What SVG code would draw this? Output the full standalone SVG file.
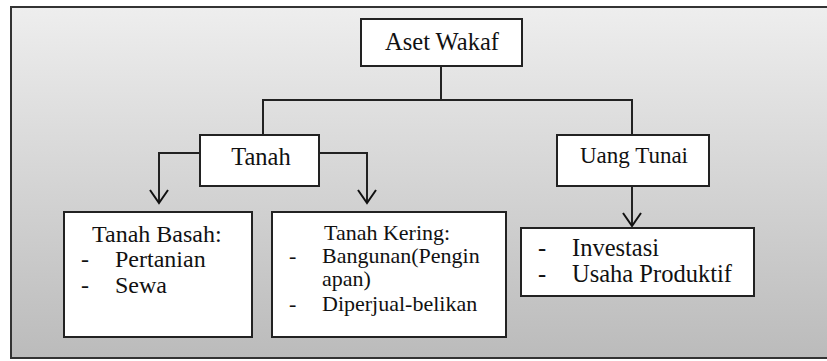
<svg xmlns="http://www.w3.org/2000/svg" width="827" height="361" viewBox="0 0 827 361">
<defs>
<linearGradient id="bg" x1="0" y1="0" x2="0" y2="1">
<stop offset="0" stop-color="#eeeeee"/>
<stop offset="1" stop-color="#bbbbbb"/>
</linearGradient>
<marker id="arr" markerUnits="userSpaceOnUse" markerWidth="16" markerHeight="20" refX="14" refY="10" orient="auto" viewBox="0 0 16 20">
<path d="M1,1 L14,10 L1,19" fill="none" stroke="#111" stroke-width="2"/>
</marker>
<style>
.box{fill:#ffffff;stroke:#222;stroke-width:2}
.ln{fill:none;stroke:#222;stroke-width:2}
text{font-family:"Liberation Serif","Times New Roman",serif;fill:#111}
</style>
</defs>
<rect x="0" y="0" width="827" height="361" fill="#ffffff"/>
<rect id="frame" x="11" y="7" width="830" height="351" fill="url(#bg)" stroke="#333" stroke-width="2"/>
<g id="connectors">
<polyline class="ln" points="441,66 441,100"/>
<polyline class="ln" points="263,135 263,100 632,100 632,135"/>
<polyline class="ln" points="200,153 159,153 159,203" marker-end="url(#arr)"/>
<polyline class="ln" points="319,153 367,153 367,203" marker-end="url(#arr)"/>
<polyline class="ln" points="632,186 632,226" marker-end="url(#arr)"/>
</g>
<g id="aset-wakaf">
<rect class="box" x="361" y="19" width="161" height="47"/>
<text x="442" y="50" font-size="24.5" text-anchor="middle">Aset Wakaf</text>
</g>
<g id="tanah">
<rect class="box" x="200" y="135" width="119" height="51"/>
<text x="261" y="165" font-size="24.5" text-anchor="middle">Tanah</text>
</g>
<g id="uang-tunai">
<rect class="box" x="557" y="135" width="152" height="51"/>
<text x="634" y="163" font-size="23" text-anchor="middle">Uang Tunai</text>
</g>
<g id="tanah-basah" font-size="24">
<rect class="box" x="64" y="212" width="188" height="125"/>
<text x="92" y="242">Tanah Basah:</text>
<text x="81" y="267">-</text>
<text x="115" y="267">Pertanian</text>
<text x="81" y="293">-</text>
<text x="115" y="293">Sewa</text>
</g>
<g id="tanah-kering" font-size="22">
<rect class="box" x="272" y="212" width="234" height="125"/>
<text x="324" y="240">Tanah Kering:</text>
<text x="289" y="263">-</text>
<text x="322" y="263">Bangunan(Pengin</text>
<text x="322" y="286">apan)</text>
<text x="289" y="311">-</text>
<text x="322" y="311">Diperjual-belikan</text>
</g>
<g id="uang-tunai-items" font-size="24.5">
<rect class="box" x="521" y="228" width="233" height="68"/>
<text x="538" y="256">-</text>
<text x="572" y="256">Investasi</text>
<text x="538" y="282">-</text>
<text x="572" y="282">Usaha Produktif</text>
</g>
</svg>
